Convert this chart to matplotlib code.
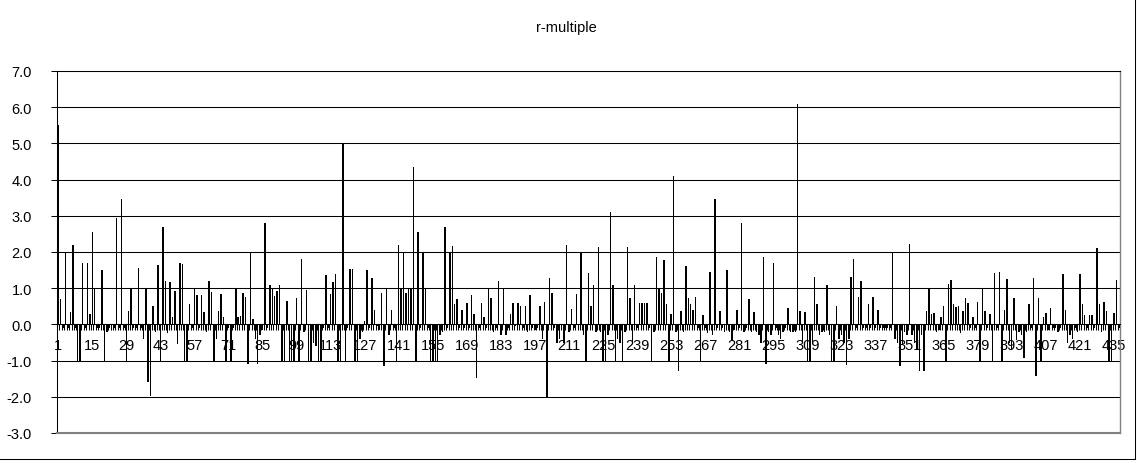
import numpy as np
import matplotlib.pyplot as plt
from matplotlib.ticker import FuncFormatter, FixedLocator
from matplotlib.lines import Line2D

plt.rcParams['font.family'] = ['Liberation Sans', 'DejaVu Sans']

title = "r-multiple"

# r-multiple per trade, trade 1..437
r_values = [
    5.5, 0.7, -0.1, 2.0, -0.1, 0.35, 2.2, -0.1, -1, -1, 1.7, -0.1, 1.7, 0.3, 2.55, 1.0, -0.1, -0.1, 1.5, -1,
    -0.2, -0.1, -0.1, -0.1, 2.93, -0.1, 3.47, -0.1, -1, 0.36, 1.0, -0.1, -0.1, 1.57, -0.1, -0.4, 1.0, -1.6, -1.98, 0.5,
    -0.2, 1.65, -1, 2.68, 1.19, -0.23, 1.18, 0.2, 0.92, -0.55, 1.7, 1.66, -1, -1, 0.55, -0.1, 0.97, 0.8, -0.1, 0.8,
    0.33, -0.2, 1.21, 0.9, -1, -0.4, 0.37, 0.83, 0.2, -1, -0.1, -1, -0.1, 0.98, 0.2, 0.23, 0.87, 0.75, -1.1, 2.0,
    0.15, -0.4, -1.1, -0.3, -0.15, 2.8, -0.1, 1.08, 1.0, 0.78, 0.93, 1.1, -1, -1, 0.66, -1, -1, -1, 0.73, -1,
    1.8, -0.2, 0.94, -1, -1, -0.5, -0.6, -1, -1, -0.1, 1.36, -0.1, 0.83, 1.18, 1.38, -1, -1, 5.0, -1, -0.1,
    1.54, 1.54, -1, -1, -0.4, -0.2, 0.1, 1.49, -0.1, 1.27, 0.39, -0.05, -0.15, 0.87, -1.15, 0.97, -0.3, 0.39, -0.1, -1,
    2.18, 1.01, 1.98, 0.87, 0.97, 0.98, 4.36, -1, 2.55, -0.1, 1.98, 0.98, -0.1, -1, -1, -1, -1, -0.3, -0.2, 2.68,
    -0.1, 1.98, 2.16, 0.57, 0.69, -0.1, 0.39, -0.1, 0.58, -0.1, 0.8, 0.28, -1.47, -0.1, 0.58, 0.21, -0.1, 0.97, 0.74, -0.2,
    -0.1, 1.19, -0.3, 0.98, -0.3, -0.1, 0.28, 0.58, -0.05, 0.58, 0.5, -0.1, 0.5, -0.2, 0.8, -0.1, -0.15, -0.1, 0.5, -0.4,
    0.62, -2.0, 1.29, 0.86, -0.1, -0.5, -0.4, -0.15, -0.5, 2.18, -0.2, 0.43, -0.1, 0.83, -0.1, 2.01, -0.3, -1, 1.41, 0.5,
    1.08, -0.2, 2.14, -0.2, -1, -1, -0.3, 3.11, 1.08, -1, -0.4, -0.5, -1, -0.2, 2.14, 0.74, -0.5, 1.08, -0.1, 0.58,
    0.58, 0.58, 0.58, -0.1, -1, -0.2, 1.86, 0.97, 0.87, 1.78, 0.55, -1, 0.3, 4.1, -0.2, -1.29, 0.37, -0.2, 1.61, 0.74,
    0.55, 0.39, 0.76, -0.1, -1.05, 0.25, -0.1, -0.25, 1.46, -0.3, 3.47, -0.1, 0.36, -0.1, -0.2, 1.49, -0.2, -0.46, -0.15, 0.39,
    -0.1, 2.79, -0.2, -0.1, 0.69, -0.2, 0.34, -0.2, -0.3, -0.5, 1.85, -1.1, -0.2, -0.3, 1.7, -0.1, -0.3, -0.4, -0.2, -0.1,
    0.44, -0.2, -0.2, -0.2, 6.08, 0.37, -0.5, 0.34, -1, -1, -0.5, 1.31, 0.55, -0.3, -0.2, -0.2, 1.08, -0.3, -1, -1,
    0.5, -0.4, -0.3, -0.5, -1.13, -0.4, 1.32, 1.8, -0.1, 0.75, 1.19, -0.1, -0.1, 0.55, -0.1, 0.75, -0.1, 0.39, -0.1, -0.1,
    -0.1, -0.1, -0.1, 2.01, -0.4, -0.5, -1.15, -0.55, -0.2, -0.3, 2.21, -0.3, -0.5, -0.7, -1.29, -0.3, -1.29, 0.37, 0.97, 0.28,
    0.32, -0.2, -0.15, 0.21, 0.5, -1, 1.12, 1.24, 0.57, 0.49, 0.5, -0.25, 0.37, 0.74, 0.6, -0.1, 0.21, -0.1, 0.62, -1,
    0.97, 0.38, -0.1, 0.3, -1, 1.43, -0.1, 1.46, -1, 0.39, 1.26, -0.5, -0.7, 0.74, -0.42, -0.2, -0.3, -0.92, -0.2, 0.57,
    -0.1, 1.29, -1.43, 0.74, -1, 0.21, 0.32, -0.15, 0.46, -0.1, -0.1, -0.2, -0.1, 1.38, 0.39, -0.5, -0.3, -0.4, -0.1, -0.2,
    1.38, 0.55, 0.25, -0.1, 0.25, 0.25, -0.1, 2.1, 0.57, -0.2, 0.63, 0.37, -1, -1, 0.32, 1.24, -0.1,
]
trades = np.arange(1, len(r_values) + 1)
label_trades = trades[::14]
y_ticks = np.arange(-3, 8)

W, H = 1137, 464
fig = plt.figure(figsize=(W / 100, H / 100), dpi=100)
ax = fig.add_axes([57 / W, 1 - 434 / H, (1120 - 57) / W, (434 - 72) / H])

ax.bar(trades, r_values, width=0.6, color='black', linewidth=0, antialiased=False, zorder=3)

ax.set_xlim(0.5, len(r_values) + 0.5)
ax.set_ylim(-3, 7)
ax.set_yticks(y_ticks)
ax.yaxis.set_major_formatter(FuncFormatter(lambda v, p: f"{v:.1f}"))
ax.yaxis.grid(True, color='black', linewidth=0.75)
ax.set_axisbelow(True)
ax.axhline(-3, color='#808080', linewidth=1.5, zorder=4, clip_on=False)

# category axis sits at zero, like excel
ax.spines['bottom'].set_position(('data', 0))
ax.spines['bottom'].set_linewidth(0.75)
ax.spines['bottom'].set_zorder(5)
ax.spines['left'].set_linewidth(0.75)
ax.spines['top'].set_linewidth(0.75)
ax.spines['right'].set_color('#808080')
ax.spines['right'].set_linewidth(1.0)

ax.xaxis.set_major_locator(FixedLocator(label_trades))
ax.xaxis.set_minor_locator(FixedLocator(np.arange(0.5, len(r_values) + 1, 1)))
ax.set_xticklabels([str(t) for t in label_trades])
ax.tick_params(axis='x', which='major', length=0, pad=10, labelsize=10.5)
ax.tick_params(axis='x', which='minor', length=4, width=0.75, direction='out')
ax.tick_params(axis='y', length=4, width=0.75, direction='out', pad=14, labelsize=10.5)

fig.text(566 / W, 1 - 28 / H, title, ha='center', va='center', fontsize=10.5)

# chart area border (right and bottom edges visible)
fig.add_artist(Line2D([1134.5 / W, 1134.5 / W], [1 - 460 / H, 1], color='black', linewidth=0.75))
fig.add_artist(Line2D([0, 1134.5 / W], [1 - 460 / H, 1 - 460 / H], color='black', linewidth=0.75))

fig.savefig("out.png", dpi=100)
